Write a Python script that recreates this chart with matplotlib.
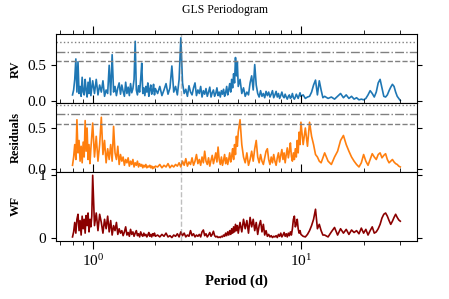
import matplotlib
matplotlib.use("Agg")
import matplotlib.pyplot as plt

plt.rcParams['font.family'] = 'serif'
plt.rcParams['font.serif'] = ['Liberation Serif', 'DejaVu Serif']
plt.rcParams['mathtext.fontset'] = 'stix'

# period grid (days)
periods = [
    0.80, 0.81, 0.82, 0.83, 0.84, 0.85, 0.86, 0.87, 0.88, 0.89, 0.90,
    0.91, 0.92, 0.93, 0.94, 0.95, 0.96, 0.97, 0.98, 0.99, 1.00,
    1.02, 1.04, 1.06, 1.08, 1.10, 1.12, 1.14, 1.16, 1.18, 1.20,
    1.22, 1.24, 1.26, 1.28, 1.30, 1.32, 1.34, 1.36, 1.38, 1.40,
    1.42, 1.44, 1.46, 1.48, 1.50, 1.52, 1.54, 1.56, 1.58, 1.60,
    1.62, 1.64, 1.66, 1.68, 1.70, 1.72, 1.74, 1.76, 1.78, 1.80,
    1.82, 1.84, 1.86, 1.88, 1.90, 1.92, 1.94, 1.96, 1.98, 2.00,
    2.05, 2.10, 2.15, 2.20, 2.25, 2.30, 2.35, 2.40, 2.45, 2.50,
    2.55, 2.60, 2.65, 2.70, 2.75, 2.80, 2.85, 2.90, 2.95, 3.00,
    3.05, 3.10, 3.15, 3.20, 3.25, 3.30, 3.35, 3.40, 3.45, 3.50,
    3.55, 3.60, 3.65, 3.70, 3.75, 3.80, 3.85, 3.90, 3.95, 4.00,
    4.05, 4.10, 4.15, 4.20, 4.25, 4.30, 4.35, 4.40, 4.45, 4.50,
    4.55, 4.60, 4.65, 4.70, 4.75, 4.80, 4.85, 4.90, 4.95, 5.00,
    5.1, 5.2, 5.3, 5.4, 5.5, 5.6, 5.7, 5.8, 5.9, 6.0,
    6.1, 6.2, 6.3, 6.4, 6.5, 6.6, 6.7, 6.8, 6.9, 7.0,
    7.1, 7.2, 7.3, 7.4, 7.5, 7.6, 7.7, 7.8, 7.9, 8.0,
    8.1, 8.2, 8.3, 8.4, 8.5, 8.6, 8.7, 8.8, 8.9, 9.0,
    9.1, 9.2, 9.3, 9.4, 9.5, 9.6, 9.7, 9.8, 9.9, 10.0,
    10.25, 10.5, 10.75, 11.0, 11.25, 11.5, 11.75, 12.0, 12.25, 12.5, 12.75, 13.0,
    13.5, 14.0, 14.5, 15.0,
    15.5, 16.0, 16.5, 17.0, 17.5, 18.0, 18.5, 19.0, 19.5, 20.0,
    20.5, 21.0, 21.5, 22.0, 22.5, 23.0, 23.5, 24.0, 24.5, 25.0,
    25.5, 26.0, 26.5, 27.0, 27.5, 28.0, 28.5, 29.0, 29.5, 30.0,
]

power_rv = [
    0.08, 0.15, 0.30, 0.59, 0.12, 0.55, 0.10, 0.20, 0.06, 0.33, 0.12,
    0.08, 0.30, 0.15, 0.05, 0.26, 0.10, 0.32, 0.07, 0.18, 0.28,
    0.10, 0.30, 0.08, 0.22, 0.12, 0.28, 0.06, 0.15, 0.10, 0.50,
    0.08, 0.65, 0.12, 0.20, 0.07, 0.18, 0.25, 0.09, 0.22, 0.13,
    0.06, 0.26, 0.10, 0.19, 0.07, 0.24, 0.11, 0.17, 0.30, 0.84,
    0.15, 0.08, 0.21, 0.12, 0.30, 0.53, 0.10, 0.18, 0.07, 0.20,
    0.12, 0.25, 0.06, 0.16, 0.22, 0.09, 0.14, 0.23, 0.08, 0.17,
    0.10, 0.20, 0.07, 0.15, 0.24, 0.09, 0.18, 0.49, 0.12, 0.20,
    0.08, 0.30, 0.89, 0.25, 0.10, 0.16, 0.06, 0.21, 0.12, 0.08,
    0.18, 0.25, 0.07, 0.15, 0.10, 0.20, 0.05, 0.14, 0.09, 0.17,
    0.06, 0.12, 0.19, 0.05, 0.11, 0.15, 0.06, 0.10, 0.18, 0.07,
    0.12, 0.05, 0.14, 0.09, 0.16, 0.06, 0.11, 0.20, 0.08, 0.15,
    0.24, 0.12, 0.30, 0.18, 0.38, 0.25, 0.61, 0.35, 0.55, 0.20,
    0.30, 0.10, 0.18, 0.06, 0.12, 0.08, 0.25, 0.35, 0.15, 0.51,
    0.22, 0.10, 0.05, 0.14, 0.06, 0.10, 0.04, 0.13, 0.07, 0.12,
    0.05, 0.09, 0.14, 0.04, 0.08, 0.13, 0.05, 0.10, 0.03, 0.07,
    0.12, 0.06, 0.04, 0.09, 0.05, 0.02, 0.06, 0.08, 0.03, 0.05,
    0.10, 0.04, 0.02, 0.05, 0.09, 0.06, 0.03, 0.07, 0.11, 0.06,
    0.08, 0.03, 0.05, 0.06, 0.12, 0.22, 0.29, 0.08, 0.28, 0.15, 0.04, 0.06,
    0.03, 0.05, 0.02, 0.06,
    0.10, 0.04, 0.08, 0.03, 0.06, 0.02, 0.04, 0.01, 0.02, 0.01,
    0.03, 0.08, 0.14, 0.10, 0.05, 0.12, 0.25, 0.30, 0.18, 0.06,
    0.05, 0.08, 0.14, 0.19, 0.23, 0.20, 0.12, 0.06, 0.03, 0.00,
]

power_res = [
    0.05, 0.15, 0.30, 0.12, 0.60, 0.20, 0.35, 0.10, 0.28, 0.08, 0.33,
    0.15, 0.59, 0.22, 0.50, 0.12, 0.30, 0.07, 0.25, 0.40, 0.56,
    0.15, 0.40, 0.10, 0.30, 0.63, 0.18, 0.35, 0.08, 0.25, 0.12,
    0.30, 0.10, 0.52, 0.20, 0.12, 0.28, 0.06, 0.18, 0.10, 0.15,
    0.05, 0.12, 0.08, 0.14, 0.04, 0.10, 0.06, 0.12, 0.03, 0.08,
    0.05, 0.10, 0.03, 0.07, 0.04, 0.06, 0.02, 0.05, 0.03, 0.06,
    0.02, 0.04, 0.03, 0.05, 0.02, 0.04, 0.01, 0.03, 0.02, 0.04,
    0.03, 0.06, 0.02, 0.05, 0.03, 0.07, 0.02, 0.05, 0.03, 0.06,
    0.04, 0.08, 0.03, 0.10, 0.05, 0.13, 0.04, 0.09, 0.06, 0.14,
    0.05, 0.10, 0.18, 0.07, 0.12, 0.05, 0.15, 0.08, 0.22, 0.10,
    0.06, 0.14, 0.04, 0.11, 0.17, 0.07, 0.13, 0.20, 0.09, 0.27,
    0.12, 0.06, 0.15, 0.05, 0.11, 0.18, 0.07, 0.14, 0.06, 0.12,
    0.20, 0.09, 0.16, 0.25, 0.12, 0.30, 0.18, 0.40, 0.28, 0.45,
    0.60, 0.30, 0.15, 0.08, 0.20, 0.05, 0.12, 0.22, 0.10, 0.25,
    0.35, 0.15, 0.08, 0.18, 0.10, 0.06, 0.14, 0.22, 0.25, 0.12,
    0.06, 0.15, 0.08, 0.18, 0.10, 0.05, 0.14, 0.20, 0.09, 0.17,
    0.24, 0.12, 0.20, 0.08, 0.18, 0.26, 0.14, 0.22, 0.32, 0.16,
    0.10, 0.20, 0.12, 0.25, 0.15, 0.35, 0.20, 0.45, 0.30, 0.57,
    0.30, 0.50, 0.28, 0.57, 0.40, 0.30, 0.18, 0.15, 0.10, 0.08, 0.14, 0.20,
    0.10, 0.06, 0.15, 0.22,
    0.35, 0.41, 0.30, 0.22, 0.15, 0.10, 0.06, 0.03, 0.08, 0.18,
    0.10, 0.05, 0.12, 0.19, 0.15, 0.12, 0.18, 0.20, 0.14, 0.17,
    0.19, 0.12, 0.08, 0.10, 0.12, 0.09, 0.07, 0.06, 0.04, 0.03,
]

power_wf = [
    0.02, 0.10, 0.25, 0.08, 0.30, 0.38, 0.12, 0.28, 0.05, 0.35, 0.15,
    0.30, 0.08, 0.36, 0.20, 0.40, 0.10, 0.30, 0.18, 0.35, 1.00,
    0.20, 0.40, 0.12, 0.38, 0.25, 0.08, 0.30, 0.15, 0.35, 0.10,
    0.28, 0.05, 0.20, 0.12, 0.25, 0.06, 0.15, 0.08, 0.12, 0.04,
    0.10, 0.18, 0.05, 0.09, 0.03, 0.14, 0.06, 0.10, 0.03, 0.08,
    0.12, 0.04, 0.07, 0.02, 0.10, 0.05, 0.03, 0.08, 0.04, 0.06,
    0.02, 0.05, 0.09, 0.03, 0.06, 0.02, 0.07, 0.04, 0.08, 0.03,
    0.05, 0.02, 0.06, 0.03, 0.08, 0.02, 0.04, 0.01, 0.05, 0.03,
    0.07, 0.02, 0.10, 0.04, 0.08, 0.02, 0.05, 0.03, 0.12, 0.04,
    0.07, 0.02, 0.05, 0.03, 0.06, 0.02, 0.10, 0.13, 0.04, 0.07,
    0.02, 0.05, 0.09, 0.03, 0.06, 0.11, 0.04, 0.02, 0.03, 0.01,
    0.02, 0.01, 0.03, 0.02, 0.05, 0.03, 0.08, 0.04, 0.10, 0.05,
    0.12, 0.06, 0.15, 0.08, 0.18, 0.10, 0.22, 0.12, 0.20, 0.08,
    0.25, 0.10, 0.30, 0.15, 0.28, 0.08, 0.33, 0.18, 0.30, 0.12,
    0.25, 0.06, 0.20, 0.28, 0.10, 0.22, 0.05, 0.12, 0.03, 0.06,
    0.02, 0.04, 0.01, 0.03, 0.02, 0.04, 0.01, 0.06, 0.03, 0.08,
    0.02, 0.05, 0.09, 0.03, 0.07, 0.02, 0.08, 0.04, 0.10, 0.05,
    0.15, 0.30, 0.35, 0.18, 0.22, 0.30, 0.15, 0.08, 0.12, 0.06,
    0.03, 0.02, 0.06, 0.12, 0.20, 0.30, 0.46, 0.15, 0.22, 0.12, 0.05, 0.05,
    0.02, 0.10, 0.17, 0.05,
    0.15, 0.08, 0.14, 0.06, 0.13, 0.09, 0.12, 0.07, 0.16, 0.08,
    0.14, 0.05, 0.12, 0.18, 0.08, 0.10, 0.15, 0.22, 0.32, 0.38,
    0.40, 0.35, 0.28, 0.22, 0.27, 0.33, 0.38, 0.33, 0.29, 0.27,
]

# false alarm levels (0.1%, 1%, 10%)
fap_rv = [0.833, 0.684, 0.565]
fap_res = [0.78, 0.675, 0.554]
fap_styles = [':', '-.', '--']

p_mark = 2.65

fig, axes = plt.subplots(3, 1, sharex=True, figsize=(4.49, 2.99), dpi=100)
fig.subplots_adjust(left=0.125, right=0.928, top=0.885, bottom=0.195, hspace=0)

series = [(power_rv, '#1f77b4', 'RV', fap_rv, (-0.037, 0.938), [0.0, 0.5]),
          (power_res, '#ff7f0e', 'Residuals', fap_res, (-0.03, 0.80), [0.0, 0.5]),
          (power_wf, '#8b0000', 'WF', None, (-0.04, 1.053), [0, 1])]

for ax, (pw, col, lab, faps, ylim, yt) in zip(axes, series):
    ax.plot(periods, pw, color=col, lw=1.2)
    if faps:
        for lvl, ls in zip(faps, fap_styles):
            ax.axhline(lvl, color='gray', ls=ls, lw=1.0)
    ax.axvline(p_mark, color='gray', ls='--', lw=1.0, alpha=0.5)
    ax.set_xscale('log')
    ax.set_ylim(*ylim)
    ax.set_yticks(yt)
    ax.set_ylabel(lab, fontsize=9, fontweight='bold')
    ax.yaxis.set_label_coords(-0.094, 0.5)
    ax.tick_params(axis='y', right=True, direction='out', labelsize=11, length=3.5)
    ax.tick_params(axis='x', which='both', direction='out', top=True,
                   bottom=False, labelbottom=False)
    ax.tick_params(axis='x', which='major', length=5.5)
    ax.tick_params(axis='x', which='minor', length=3)

axes[2].tick_params(axis='x', which='both', bottom=True, labelbottom=True, labelsize=11)
axes[2].set_xlabel('Period (d)', fontsize=10.5, fontweight='bold')
fig.suptitle('GLS Periodogram', fontsize=8.5, y=0.985)

plt.savefig('out.png', dpi=100)
